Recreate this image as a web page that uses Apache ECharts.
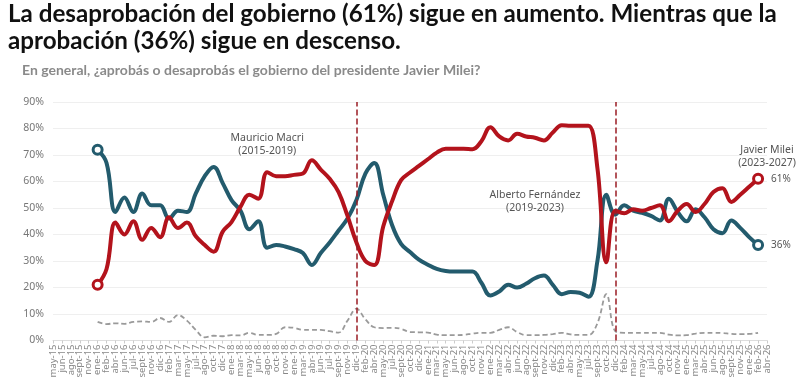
<!DOCTYPE html>
<html>
<head>
<meta charset="utf-8">
<script src="https://cdn.jsdelivr.net/npm/echarts@6/dist/echarts.min.js"></script>
<style>
  html, body { margin: 0; padding: 0; background: #fff; }
  #chart { width: 800px; height: 382px; }
</style>
</head>
<body>
<div id="chart"></div>
<script>
// ---- tick labels (categories) ----
const categories = [
  'may-15','jun-15','ago-15','sept-15','nov-15','ene-16','feb-16','abr-16','jun-16','jul-16',
  'sept-16','nov-16','dic-16','feb-17','mar-17','may-17','jul-17','ago-17','oct-17','dic-17',
  'ene-18','mar-18','may-18','jun-18','ago-18','oct-18','nov-18','ene-19','mar-19','abr-19',
  'jun-19','jul-19','sept-19','nov-19','dic-19','feb-20','abr-20','may-20','jul-20','sept-20',
  'oct-20','dic-20','ene-21','mar-21','may-21','jun-21','ago-21','oct-21','nov-21','ene-22',
  'mar-22','abr-22','jun-22','ago-22','sept-22','nov-22','dic-22','feb-23','abr-23','may-23',
  'jul-23','sept-23','oct-23','dic-23','feb-24','mar-24','may-24','jul-24','ago-24','oct-24',
  'nov-24','ene-25','mar-25','abr-25','jun-25','ago-25','sept-25','nov-25','ene-26','feb-26',
  'abr-26'
];

// ---- series values (%), one per category; null = no poll ----
const aprobacion = [
  null,null,null,null,null,72,67,48.5,54,48.5,
  55.5,51,51,46,49,48.5,55.5,62,65.5,59.5,
  53,49,42,45,35,36,35.5,34.5,33,28.5,
  33,37,41.5,46,53,63,67,55,43.5,36.5,
  33.4,30.5,28.6,27,26.2,26,26,26,21.8,17,
  18.5,21,20,21.4,23.5,24.5,21,17.5,18.3,18,
  16.5,30,55,47.5,51,49,48.2,47,45.3,53.5,
  48.5,45,49.5,46.5,42,40.5,45.3,42.5,39,36,
  null
];
const desaprobacion = [
  null,null,null,null,null,21,27,44.5,40,45,
  38,42.5,39,46.5,42.5,44.5,39.3,36,33.5,41,
  44.7,50.4,55,53.5,63.5,62,62,62.5,63,68,
  64.5,61,56,47,37,30,28.5,43,52.6,60.5,
  63.4,65.9,68.4,70.9,72.4,72.4,72.4,72.2,75.2,80.5,
  77,75.5,78,77,76.5,75.5,78.5,81.2,81,81,
  81,65,29.5,49,48,49.5,49,50,51,45,
  49,51.5,48.5,51.5,56,57.5,52.3,55,58,61,
  null
];
const nsnc = [
  null,null,null,null,null,7,6.2,6.5,6.3,7,
  7.2,7,8.5,7,9.6,7.5,4,1.2,1.8,1.6,
  2,1.9,2.9,2.1,2.1,2.5,5,4.8,4,4,
  4,3.5,3,7.5,12,8,5,4.7,4.8,4.4,
  3.2,3.1,3,2.2,2,2,2.1,2.6,2.9,2.9,
  4,5,3.2,2,2,2.1,2.4,2.9,2.3,2.1,
  2.1,6.5,17.5,3.5,2.9,2.9,2.9,2.9,2.9,2.2,
  1.9,2,2.6,2.9,2.9,2.8,2.5,2.4,2.5,2.9,
  null
];

// ---- y ticks ----
const yMin = 0, yMax = 90, yStep = 10;

// ---- term boundaries & annotations ----
const termBreaks = ['dic-19', 'dic-23'];
const annotations = [
  { text: 'Mauricio Macri\n(2015-2019)', at: 'ago-18', value: 73.9 },
  { text: 'Alberto Fernández\n(2019-2023)', at: 'sept-22', value: 52.5 },
  { text: 'Javier Milei\n(2023-2027)', at: 'abr-26', value: 69.4 }
];

const BLUE = '#235b6d';
const RED = '#b3131c';
const GRAY = '#9a9a9a';
const FONT = "'Noto Sans', sans-serif";

function withEnds(arr, color) {
  let first = arr.findIndex(v => v != null);
  let last = arr.length - 1;
  while (arr[last] == null) last--;
  return arr.map((v, i) => {
    if (i === first || i === last) {
      return {
        value: v,
        symbol: 'circle',
        symbolSize: 9,
        itemStyle: { color: '#fff', borderColor: color, borderWidth: 3 },
        label: i === last ? {
          show: true, position: 'right', distance: 7,
          formatter: '{c}%', color: '#555', fontSize: 10, fontFamily: FONT
        } : { show: false }
      };
    }
    return v;
  });
}

const chart = echarts.init(document.getElementById('chart'), null, { renderer: 'canvas' });

chart.setOption({
  animation: false,
  backgroundColor: '#fff',
  title: [
    {
      text: 'La desaprobación del gobierno (61%) sigue en aumento. Mientras que la\naprobación (36%) sigue en descenso.',
      left: 8, top: 1, padding: 0,
      textStyle: { fontFamily: 'Lato, sans-serif', fontSize: 24.2, fontWeight: 'bold', color: '#111', lineHeight: 27 }
    },
    {
      text: 'En general, ¿aprobás o desaprobás el gobierno del presidente Javier Milei?',
      left: 22, top: 63, padding: 0,
      textStyle: { fontFamily: 'Lato, sans-serif', fontSize: 14, fontWeight: 'bold', color: '#8a8a8a' }
    }
  ],
  grid: { left: 53, right: 33, top: 102, bottom: 41.5 },
  xAxis: {
    type: 'category',
    data: categories,
    boundaryGap: false,
    axisLine: { show: true, lineStyle: { color: '#ddd' } },
    axisTick: { show: true, length: 3, lineStyle: { color: '#ccc' }, interval: 0 },
    axisLabel: {
      interval: 0, rotate: 90, fontSize: 9.5, color: '#888', margin: 4,
      fontFamily: FONT, hideOverlap: false
    },
    splitLine: { show: false }
  },
  yAxis: {
    type: 'value',
    min: yMin, max: yMax, interval: yStep,
    axisLine: { show: false },
    axisTick: { show: false },
    axisLabel: { formatter: '{value}%', color: '#777', fontSize: 10.5, margin: 9, fontFamily: FONT },
    splitLine: { lineStyle: { color: '#efefef', width: 1 } }
  },
  series: [
    {
      name: 'Ns/Nc',
      type: 'line',
      data: nsnc,
      smooth: 0.4,
      symbol: 'none',
      connectNulls: false,
      lineStyle: { color: GRAY, width: 1.8, type: [5, 3] },
      z: 2,
      markLine: {
        silent: true,
        symbol: 'none',
        label: { show: false },
        lineStyle: { color: '#9b1c25', width: 1.5, type: [6, 3] },
        data: termBreaks.map(c => ({ xAxis: c }))
      },
      markPoint: {
        silent: true,
        symbol: 'circle',
        symbolSize: 1,
        itemStyle: { color: 'rgba(0,0,0,0)' },
        label: {
          show: true, position: 'inside', color: '#555', fontSize: 10.5,
          lineHeight: 13.5, fontFamily: FONT,
          formatter: p => p.data.name
        },
        data: annotations.map(a => ({ name: a.text, coord: [a.at, a.value] }))
      }
    },
    {
      name: 'Aprobación',
      type: 'line',
      data: withEnds(aprobacion, BLUE),
      smooth: 0.4,
      symbol: 'none',
      showSymbol: true,
      showAllSymbol: true,
      lineStyle: { color: BLUE, width: 4 },
      itemStyle: { color: BLUE },
      z: 3
    },
    {
      name: 'Desaprobación',
      type: 'line',
      data: withEnds(desaprobacion, RED),
      smooth: 0.4,
      symbol: 'none',
      showSymbol: true,
      showAllSymbol: true,
      lineStyle: { color: RED, width: 4 },
      itemStyle: { color: RED },
      z: 4
    }
  ]
});
</script>
</body>
</html>
